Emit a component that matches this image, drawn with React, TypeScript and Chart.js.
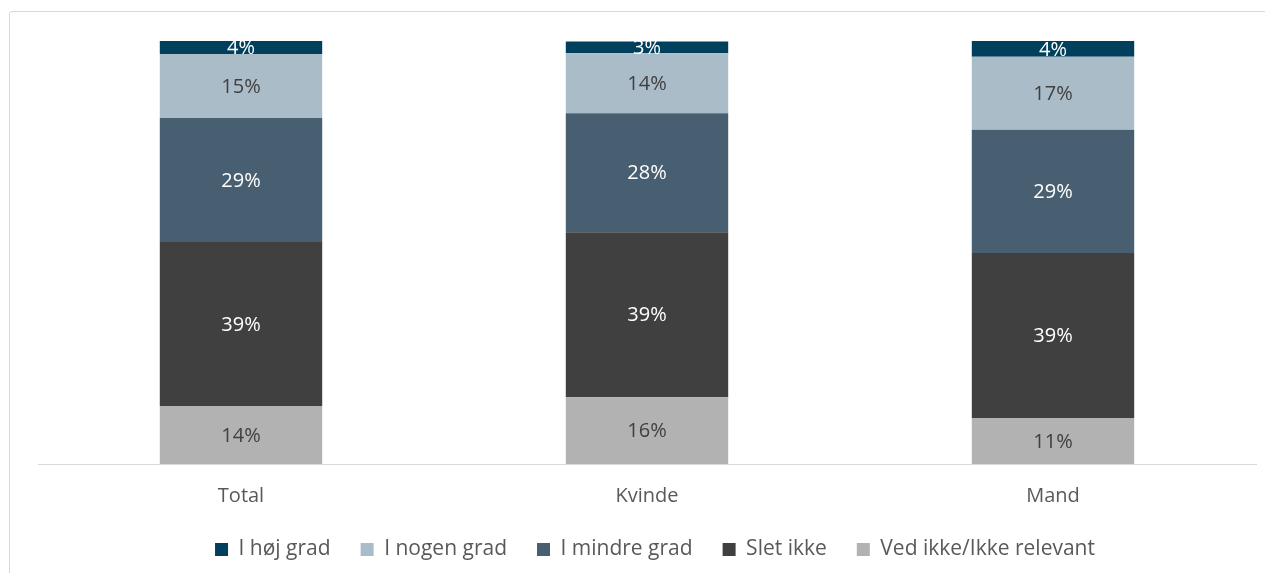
import React, { useEffect, useRef } from "react";
import { Chart, registerables } from "chart.js";

Chart.register(...registerables);

const categories = ["Total", "Kvinde", "Mand"];
const seriesNames = ["Ved ikke/Ikke relevant", "Slet ikke", "I mindre grad", "I nogen grad", "I høj grad"];
const vedIkke = [13.7, 15.8, 10.9];
const sletIkke = [38.8, 39.0, 39.0];
const iMindreGrad = [29.3, 28.1, 29.1];
const iNogenGrad = [15.1, 14.2, 17.3];
const iHoejGrad = [3.8, 2.8, 3.8];
const seriesColors = ["#b2b2b2", "#404040", "#475f70", "#abbcc9", "#00405c"];
const labelColors = ["#404040", "#ffffff", "#ffffff", "#404040", "#ffffff"];

const FONT = "'Open Sans', sans-serif";

const dataLabelPlugin = {
  id: "segLabels",
  afterDatasetsDraw(chart: any) {
    const ctx = chart.ctx;
    const area = chart.chartArea;
    ctx.save();
    ctx.beginPath();
    ctx.rect(area.left, area.top, area.right - area.left, area.bottom - area.top);
    ctx.clip();
    ctx.font = `20px ${FONT}`;
    ctx.textAlign = "center";
    ctx.textBaseline = "middle";
    chart.data.datasets.forEach((ds: any, di: number) => {
      const meta = chart.getDatasetMeta(di);
      meta.data.forEach((el: any, i: number) => {
        const v = ds.data[i];
        const top = Math.max(el.y, area.top);
        const y = (top + el.base) / 2;
        ctx.fillStyle = labelColors[di];
        ctx.fillText(Math.round(v) + "%", el.x, y + 1);
      });
    });
    ctx.restore();
  },
};

const legendShiftPlugin = {
  id: "legendShift",
  afterLayout(chart: any) {
    if (chart.legend) {
      chart.legend.left += 8;
      chart.legend.right += 8;
    }
  },
};

export default function App() {
  const ref = useRef<HTMLCanvasElement>(null);
  useEffect(() => {
    const values = [vedIkke, sletIkke, iMindreGrad, iNogenGrad, iHoejGrad];
    const chart = new Chart(ref.current!, {
      type: "bar",
      data: {
        labels: categories,
        datasets: values.map((d, i) => ({
          label: seriesNames[i],
          data: d,
          backgroundColor: seriesColors[i],
          borderWidth: 0,
          categoryPercentage: 1,
          barPercentage: 0.4,
        })),
      },
      options: {
        responsive: false,
        animation: false,
        layout: { padding: { left: 30, right: 9, top: 33, bottom: 3 } },
        plugins: {
          legend: {
            position: "bottom",
            reverse: true,
            labels: {
              boxWidth: 13,
              boxHeight: 13,
              padding: 30,
              color: "#595959",
              font: { family: FONT, size: 21 },
            },
          },
          tooltip: { enabled: false },
        },
        scales: {
          x: {
            stacked: true,
            grid: { display: false, drawTicks: true, tickLength: 19 },
            border: { color: "#d9d9d9", width: 1 },
            ticks: { color: "#595959", font: { family: FONT, size: 20 }, padding: 1 },
          },
          y: {
            stacked: true,
            display: false,
            min: 0,
            max: 100,
          },
        },
      },
      plugins: [dataLabelPlugin, legendShiftPlugin],
    });
    return () => chart.destroy();
  }, []);
  return (
    <div style={{ position: "relative", width: 1257, height: 565, overflow: "hidden" }}>
      <div
        style={{
          position: "absolute",
          left: 1,
          top: 3,
          width: 1400,
          height: 700,
          border: "1px solid #d9d9d9",
          borderRadius: 3,
        }}
      />
      <canvas ref={ref} width={1257} height={565} style={{ position: "absolute", left: 0, top: 0 }} />
    </div>
  );
}
